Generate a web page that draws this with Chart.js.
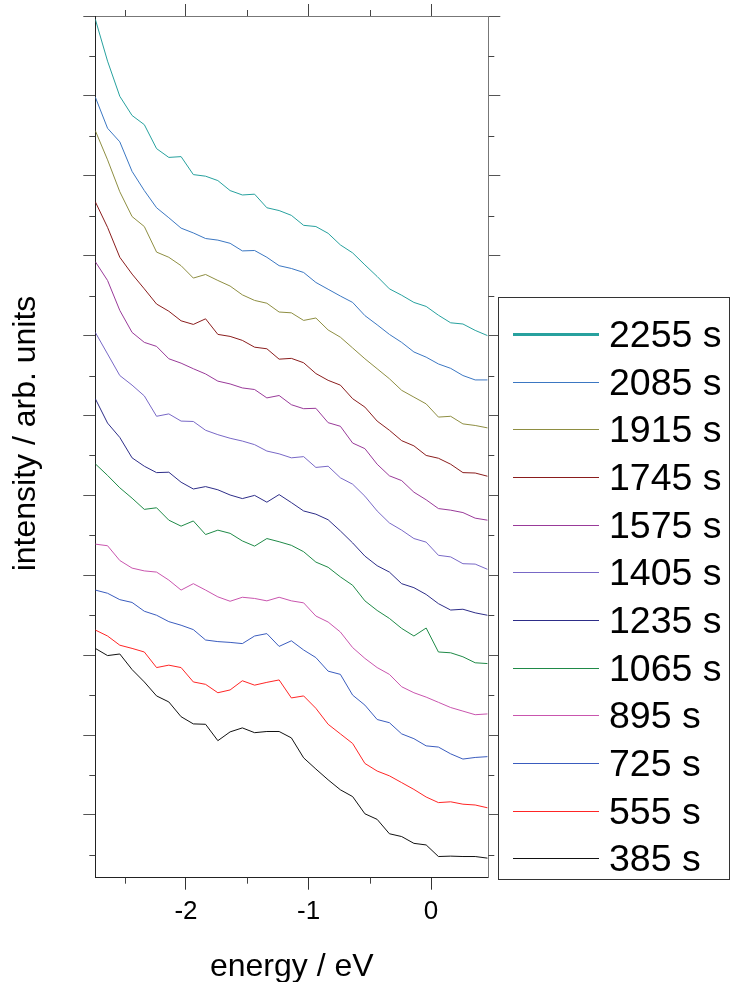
<!DOCTYPE html>
<html><head><meta charset="utf-8">
<script src="https://cdn.jsdelivr.net/npm/chart.js@4/dist/chart.umd.min.js"></script>
<style>
html,body{margin:0;padding:0;background:#fff;}
#wrap{position:relative;width:730px;height:982px;overflow:hidden;}
#c{position:absolute;left:0;top:0;width:730px;height:982px;}
#legend{position:absolute;left:498px;top:297px;width:232px;height:583px;border:1px solid #333;box-sizing:border-box;font-family:'Liberation Sans',Arial,Helvetica,sans-serif;background:#fff;}
.row{position:absolute;left:0;height:49px;display:flex;align-items:center;}
.sw{margin-left:14px;width:86px;}
.lb{margin-left:10px;font-size:37.5px;line-height:49px;color:#000;white-space:nowrap;}
</style></head><body>
<div id="wrap"><canvas id="c" width="730" height="982"></canvas><div id="legend"></div></div>
<script>
// ---- data ----
const energy = [-2.74, -2.64, -2.54, -2.44, -2.34, -2.24, -2.14, -2.04, -1.94, -1.84, -1.74, -1.64, -1.54, -1.44, -1.34, -1.24, -1.14, -1.04, -0.94, -0.84, -0.74, -0.64, -0.54, -0.44, -0.34, -0.24, -0.14, -0.04, 0.06, 0.16, 0.26, 0.36, 0.46];

const s2255 = [20.92, 19.87, 18.99, 18.51, 18.28, 17.68, 17.46, 17.48, 17.03, 16.99, 16.88, 16.63, 16.52, 16.54, 16.20, 16.13, 16.01, 15.76, 15.73, 15.56, 15.27, 15.07, 14.77, 14.48, 14.17, 14.01, 13.83, 13.73, 13.51, 13.32, 13.29, 13.13, 13.00];
const s2085 = [18.97, 18.19, 17.85, 17.11, 16.63, 16.20, 15.95, 15.69, 15.57, 15.43, 15.39, 15.31, 15.12, 15.13, 14.96, 14.75, 14.68, 14.58, 14.33, 14.16, 13.99, 13.83, 13.50, 13.27, 13.03, 12.83, 12.59, 12.46, 12.29, 12.18, 12.00, 11.89, 11.89];
const s1915 = [18.13, 17.40, 16.60, 15.98, 15.73, 15.09, 14.96, 14.75, 14.44, 14.53, 14.38, 14.24, 14.02, 13.88, 13.81, 13.59, 13.57, 13.38, 13.44, 13.14, 12.96, 12.69, 12.42, 12.17, 11.92, 11.63, 11.46, 11.29, 10.96, 10.98, 10.79, 10.75, 10.69];
const s1745 = [16.35, 15.71, 14.96, 14.54, 14.17, 13.79, 13.61, 13.37, 13.28, 13.42, 13.03, 12.98, 12.88, 12.71, 12.67, 12.41, 12.43, 12.32, 12.05, 11.88, 11.76, 11.42, 11.21, 10.86, 10.63, 10.37, 10.24, 10.00, 9.93, 9.78, 9.57, 9.56, 9.48];
const s1575 = [14.85, 14.38, 13.63, 13.08, 12.83, 12.73, 12.42, 12.31, 12.17, 12.04, 11.86, 11.79, 11.69, 11.65, 11.44, 11.50, 11.27, 11.17, 11.18, 10.82, 10.73, 10.31, 10.17, 9.78, 9.49, 9.37, 9.08, 8.89, 8.67, 8.63, 8.57, 8.43, 8.38];
const s1405 = [13.08, 12.54, 12.00, 11.76, 11.49, 10.98, 11.04, 10.86, 10.85, 10.63, 10.52, 10.43, 10.36, 10.27, 10.11, 10.04, 9.94, 9.97, 9.70, 9.73, 9.44, 9.28, 8.98, 8.61, 8.31, 8.13, 7.92, 7.83, 7.50, 7.46, 7.29, 7.28, 7.15];
const s1235 = [11.42, 10.81, 10.45, 9.94, 9.73, 9.57, 9.58, 9.33, 9.16, 9.22, 9.14, 9.01, 8.92, 9.00, 8.83, 9.02, 8.82, 8.61, 8.53, 8.39, 8.11, 7.81, 7.48, 7.24, 7.08, 6.79, 6.69, 6.52, 6.29, 6.13, 6.15, 6.06, 6.00];
const s1065 = [9.79, 9.50, 9.19, 8.93, 8.65, 8.69, 8.38, 8.23, 8.36, 8.02, 8.13, 8.05, 7.86, 7.73, 7.92, 7.84, 7.75, 7.59, 7.33, 7.20, 6.96, 6.75, 6.36, 6.12, 5.92, 5.67, 5.48, 5.68, 5.08, 5.06, 4.96, 4.81, 4.79];
const s895  = [7.78, 7.74, 7.37, 7.18, 7.11, 7.08, 6.88, 6.63, 6.79, 6.63, 6.46, 6.35, 6.45, 6.42, 6.36, 6.45, 6.36, 6.31, 5.98, 5.83, 5.58, 5.19, 4.92, 4.69, 4.52, 4.21, 4.06, 3.95, 3.82, 3.69, 3.60, 3.51, 3.53];
const s725  = [6.63, 6.55, 6.39, 6.32, 6.10, 6.00, 5.84, 5.75, 5.64, 5.38, 5.34, 5.32, 5.29, 5.48, 5.54, 5.22, 5.36, 5.13, 4.94, 4.60, 4.52, 4.00, 3.75, 3.39, 3.31, 3.03, 2.91, 2.73, 2.70, 2.53, 2.40, 2.44, 2.46];
const s555  = [5.63, 5.48, 5.25, 5.17, 5.08, 4.69, 4.75, 4.69, 4.33, 4.27, 4.06, 4.13, 4.36, 4.25, 4.32, 4.38, 3.93, 3.98, 3.67, 3.27, 3.03, 2.79, 2.29, 2.10, 1.98, 1.81, 1.64, 1.45, 1.31, 1.33, 1.27, 1.25, 1.18];
const s385  = [5.17, 4.99, 5.03, 4.64, 4.33, 3.98, 3.83, 3.46, 3.28, 3.27, 2.86, 3.08, 3.18, 3.06, 3.09, 3.09, 2.93, 2.43, 2.15, 1.88, 1.63, 1.46, 1.03, 0.89, 0.53, 0.46, 0.29, 0.25, -0.04, -0.03, -0.04, -0.04, -0.08];

const seriesLabels = ['2255 s', '2085 s', '1915 s', '1745 s', '1575 s', '1405 s', '1235 s', '1065 s', '895 s', '725 s', '555 s', '385 s'];
const seriesValues = [s2255, s2085, s1915, s1745, s1575, s1405, s1235, s1065, s895, s725, s555, s385];
const seriesColors = ['#27a19e', '#3b77c2', '#8e8e42', '#8a1d1d', '#993a99', '#7868c6', '#2d2d88', '#1f8a47', '#c955ae', '#3a5cbe', '#ff2525', '#111111'];

const xMajorTicks = [-2, -1, 0];
const xMinorTicks = [-2.5, -1.5, -0.5];
const yMajorTicks = [1, 3, 5, 7, 9, 11, 13, 15, 17, 19, 21];
const yMinorTicks = [0, 2, 4, 6, 8, 10, 12, 14, 16, 18, 20];
const xRange = [-2.74, 0.467];
const yRange = [-0.57, 21];

// ---- chart ----
const FONT = "'Liberation Sans', Arial, Helvetica, sans-serif";
Chart.defaults.font.family = FONT;
Chart.defaults.color = '#000';

const datasets = seriesLabels.map((lab, k) => ({
  label: lab,
  data: energy.map((e, i) => ({x: e, y: seriesValues[k][i]})),
  borderColor: seriesColors[k],
  backgroundColor: seriesColors[k],
  borderWidth: 1,
  pointRadius: 0,
  fill: false,
  tension: 0
}));

function setTicks(vals) { return function(scale) { scale.ticks = vals.map(v => ({value: v})); }; }

const minorTicks = {
  id: 'minorTicks',
  afterDraw(chart) {
    const {ctx, chartArea: a, scales} = chart;
    ctx.save();
    ctx.strokeStyle = '#444';
    ctx.lineWidth = 1;
    ctx.beginPath();
    xMinorTicks.forEach(v => {
      const px = Math.round(scales.x.getPixelForValue(v)) + 0.5;
      ctx.moveTo(px, a.bottom); ctx.lineTo(px, a.bottom + 6);
      ctx.moveTo(px, a.top); ctx.lineTo(px, a.top - 6);
    });
    yMinorTicks.forEach(v => {
      const py = Math.round(scales.y.getPixelForValue(v)) + 0.5;
      ctx.moveTo(a.left, py); ctx.lineTo(a.left - 6, py);
      ctx.moveTo(a.right, py); ctx.lineTo(a.right + 6, py);
    });
    ctx.stroke();
    ctx.restore();
  }
};

const gridOpts = (col) => ({drawOnChartArea: false, drawTicks: true, tickLength: 12, tickColor: col, lineWidth: 1});

new Chart(document.getElementById('c'), {
  type: 'line',
  data: {datasets},
  plugins: [minorTicks],
  options: {
    responsive: false,
    animation: false,
    devicePixelRatio: 1,
    layout: {padding: 0},
    plugins: {legend: {display: false}, tooltip: {enabled: false}},
    scales: {
      x: {
        type: 'linear', position: 'bottom', min: xRange[0], max: xRange[1],
        afterBuildTicks: setTicks(xMajorTicks),
        afterFit(s) { s.height = 104.3; },
        grid: gridOpts('#333'),
        border: {color: '#222', width: 1},
        ticks: {font: {size: 26}, padding: 7, maxRotation: 0, autoSkip: false, color: '#000', callback: v => String(v)},
        title: {display: true, text: 'energy / eV', font: {size: 32}, color: '#000', padding: {top: 0, bottom: -4}}
      },
      x2: {
        type: 'linear', position: 'top', min: xRange[0], max: xRange[1],
        afterBuildTicks: setTicks(xMajorTicks),
        afterFit(s) { s.height = 16; },
        grid: gridOpts('#444'),
        border: {color: '#777', width: 1},
        ticks: {display: false}
      },
      y: {
        type: 'linear', position: 'left', min: yRange[0], max: yRange[1],
        afterBuildTicks: setTicks(yMajorTicks),
        afterFit(s) { s.width = 95.3; },
        grid: gridOpts('#555'),
        border: {color: '#222', width: 1},
        ticks: {display: false},
        title: {display: true, text: '   intensity / arb. units', font: {size: 32}, color: '#000', padding: {top: 7, bottom: 0}}
      },
      y2: {
        type: 'linear', position: 'right', min: yRange[0], max: yRange[1],
        afterBuildTicks: setTicks(yMajorTicks),
        afterFit(s) { s.width = 241.7; },
        grid: gridOpts('#555'),
        border: {color: '#777', width: 1},
        ticks: {display: false}
      }
    }
  }
});

// ---- legend (HTML) ----
const legend = document.getElementById('legend');
seriesLabels.forEach((lab, k) => {
  const row = document.createElement('div');
  row.className = 'row';
  row.style.top = Math.round(12 + 47.67 * k) + 'px';
  const sw = document.createElement('div');
  sw.className = 'sw';
  sw.style.height = (k === 0 ? 3 : 1) + 'px';
  sw.style.background = seriesColors[k];
  const lb = document.createElement('div');
  lb.className = 'lb';
  lb.textContent = lab;
  row.appendChild(sw); row.appendChild(lb);
  legend.appendChild(row);
});
</script>
</body></html>
